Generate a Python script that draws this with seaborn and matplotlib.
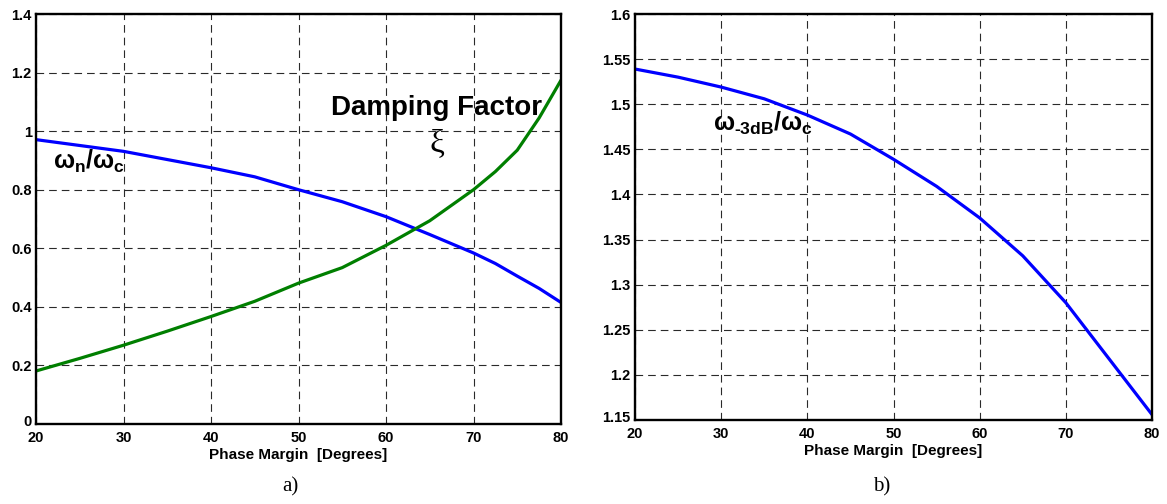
import matplotlib
matplotlib.use("Agg")
import matplotlib.pyplot as plt
import matplotlib.transforms as mtransforms
import seaborn as sns
import pandas as pd

# ---- data ----
pm_a = [20, 25, 30, 35, 40, 45, 50, 55, 60, 65, 70, 72.5, 75, 77.5, 80]
wn_wc = [0.971, 0.951, 0.931, 0.903, 0.875, 0.844, 0.800, 0.759, 0.708,
         0.647, 0.584, 0.548, 0.505, 0.463, 0.415]
xi = [0.181, 0.224, 0.269, 0.317, 0.367, 0.419, 0.481, 0.534, 0.610,
      0.694, 0.800, 0.862, 0.935, 1.045, 1.174]

pm_b = [20, 25, 30, 35, 40, 45, 50, 55, 60, 65, 70, 75, 80]
w3db_wc = [1.539, 1.530, 1.519, 1.506, 1.488, 1.467, 1.439, 1.409, 1.374,
           1.332, 1.280, 1.218, 1.156]

xticks = [20, 30, 40, 50, 60, 70, 80]
yticks_a = [0, 0.2, 0.4, 0.6, 0.8, 1.0, 1.2, 1.4]
ylabels_a = ["0", "0.2", "0.4", "0.6", "0.8", "1", "1.2", "1.4"]
yticks_b = [1.15, 1.2, 1.25, 1.3, 1.35, 1.4, 1.45, 1.5, 1.55, 1.6]
ylabels_b = ["1.15", "1.2", "1.25", "1.3", "1.35", "1.4", "1.45", "1.5", "1.55", "1.6"]
xlabel = "Phase Margin  [Degrees]"

sns.set_style("white")
plt.rcParams["font.family"] = ["Liberation Sans", "DejaVu Sans"]
plt.rcParams["mathtext.fontset"] = "custom"
plt.rcParams["mathtext.rm"] = "Liberation Sans:bold"
plt.rcParams["mathtext.it"] = "Liberation Sans:bold"
plt.rcParams["mathtext.bf"] = "Liberation Sans:bold"
plt.rcParams["lines.scale_dashes"] = False
for k in ["text.color", "axes.labelcolor", "xtick.color", "ytick.color"]:
    plt.rcParams[k] = "black"

W, H = 1167, 504
fig = plt.figure(figsize=(W / 100, H / 100), dpi=100)
ax1 = fig.add_axes([36 / W, 1 - 424 / H, (561 - 36) / W, (424 - 14) / H])
ax2 = fig.add_axes([635 / W, 1 - 420 / H, (1152 - 635) / W, (420 - 14) / H])

df_a = pd.DataFrame({"pm": pm_a, "wn": wn_wc, "xi": xi})
df_b = pd.DataFrame({"pm": pm_b, "w3": w3db_wc})

sns.lineplot(data=df_a, x="pm", y="wn", ax=ax1, color="#0000ff", lw=2.3)
sns.lineplot(data=df_a, x="pm", y="xi", ax=ax1, color="#007f00", lw=2.3)
sns.lineplot(data=df_b, x="pm", y="w3", ax=ax2, color="#0000ff", lw=2.3)

for ax, yt, yl, ylim in [(ax1, yticks_a, ylabels_a, (0, 1.4)),
                         (ax2, yticks_b, ylabels_b, (1.15, 1.6))]:
    ax.set_xlim(20, 80)
    ax.set_ylim(*ylim)
    ax.set_xticks(xticks)
    ax.set_xticklabels([str(t) for t in xticks])
    ax.set_yticks(yt)
    ax.set_yticklabels(yl)
    ax.grid(True, color="#2a2a2a", linestyle=(0, (5.5, 3.6)), linewidth=0.8)
    ax.set_axisbelow(True)
    for s in ax.spines.values():
        s.set_visible(True)
        s.set_color("black")
        s.set_linewidth(1.7)
    ax.tick_params(axis="both", length=0, labelsize=10.5, pad=3)
    ax.tick_params(axis="x", pad=5)
    for lab in ax.get_xticklabels() + ax.get_yticklabels():
        lab.set_fontweight("bold")
    ax.set_xlabel(xlabel, fontsize=11, fontweight="bold", labelpad=2)
    ax.set_ylabel("")

# lift the lowest y tick label slightly so it clears the "20" x tick label
for ax in (ax1, ax2):
    lab0 = ax.get_yticklabels()[0]
    lab0.set_transform(lab0.get_transform() +
                       mtransforms.ScaledTranslation(0, 4 / 100, fig.dpi_scale_trans))

# annotations
ax1.text(21.9, 0.872, r"$\omega_n/\omega_c$", fontsize=18, ha="left", va="baseline")
ax1.text(65.8, 1.055, "Damping Factor", fontsize=20, fontweight="bold",
         ha="center", va="baseline")
ax1.text(65.8, 0.958, "ξ", fontsize=24, family=["Liberation Serif", "DejaVu Serif"],
         ha="center", va="center")
ax2.text(29.0, 1.470, r"$\omega_{\text{-3dB}}/\omega_c$", fontsize=18,
         ha="left", va="baseline")

# captions
fig.text(290 / W, 1 - 487 / H, "a)", fontsize=15, family=["Liberation Serif"],
         ha="center", va="center")
fig.text(882 / W, 1 - 487 / H, "b)", fontsize=15, family=["Liberation Serif"],
         ha="center", va="center")

fig.savefig("out.png", dpi=100)
